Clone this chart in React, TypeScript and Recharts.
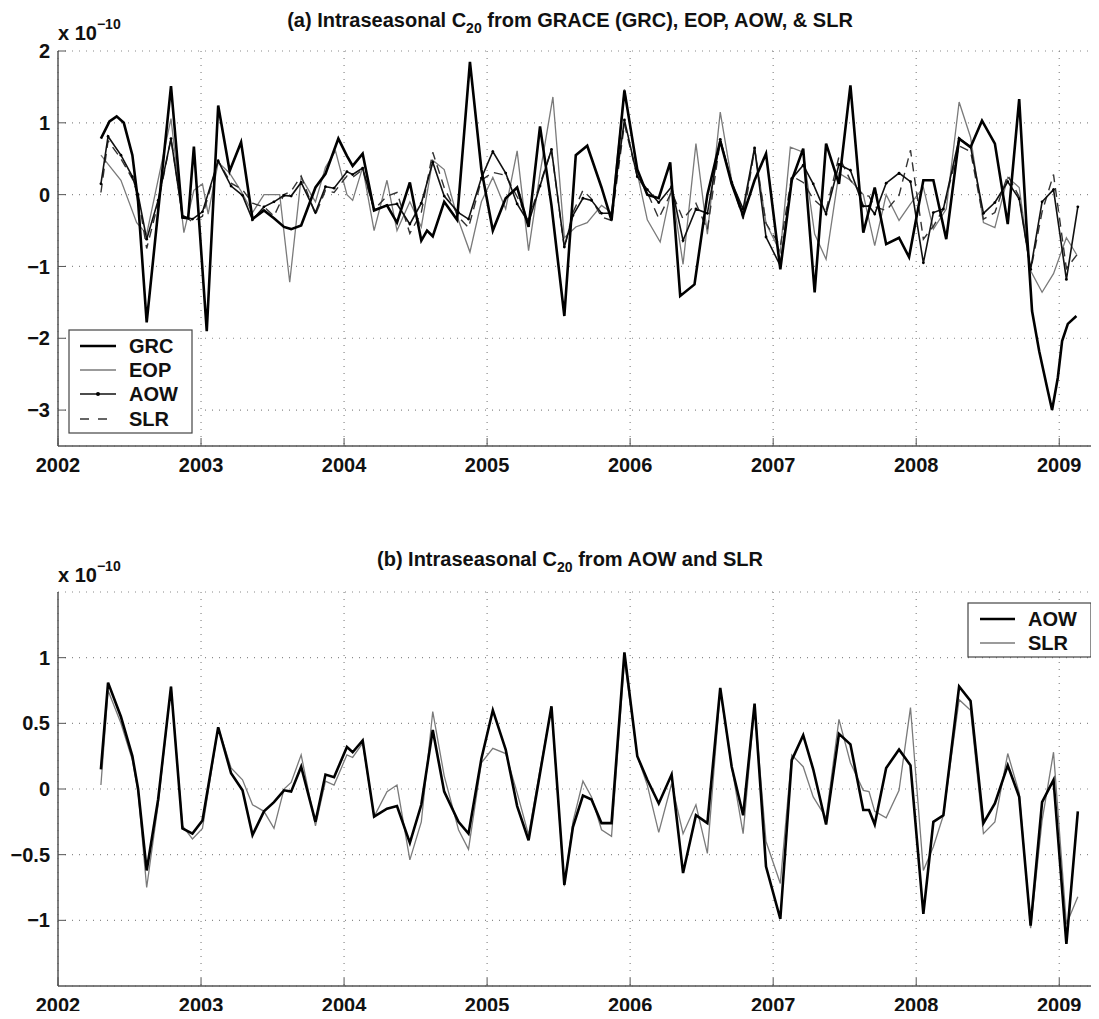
import React from "react";
import { LineChart, Line, XAxis, YAxis, CartesianGrid } from "recharts";

const FONT = "'Liberation Sans', Arial, Helvetica, sans-serif";

const yearTicks = [2002, 2003, 2004, 2005, 2006, 2007, 2008, 2009];
const topTicks = [-3, -2, -1, 0, 1, 2];
const bottomTicks = [-1, -0.5, 0, 0.5, 1];

// GRACE (GRC)
const grcT = [
  2002.3, 2002.36, 2002.41, 2002.46, 2002.52, 2002.56, 2002.62, 2002.79, 2002.87, 2002.91, 2002.95,
  2003.04, 2003.12, 2003.2, 2003.28, 2003.36, 2003.44, 2003.51, 2003.58, 2003.63, 2003.7, 2003.8, 2003.87, 2003.96,
  2004.02, 2004.06, 2004.13, 2004.21, 2004.3, 2004.37, 2004.46, 2004.54, 2004.58, 2004.62, 2004.7, 2004.79, 2004.88, 2004.96,
  2005.04, 2005.13, 2005.21, 2005.29, 2005.37, 2005.45, 2005.54, 2005.62, 2005.7, 2005.8, 2005.87, 2005.96,
  2006.05, 2006.12, 2006.2, 2006.28, 2006.35, 2006.45, 2006.54, 2006.63, 2006.71, 2006.79, 2006.87, 2006.95,
  2007.05, 2007.13, 2007.21, 2007.29, 2007.37, 2007.46, 2007.54, 2007.63, 2007.71, 2007.79, 2007.88, 2007.95,
  2008.05, 2008.12, 2008.21, 2008.3, 2008.38, 2008.46, 2008.55, 2008.64, 2008.72, 2008.77, 2008.81, 2008.86, 2008.92, 2008.95, 2008.99,
  2009.02, 2009.06, 2009.12,
];
const grcV = [
  0.78, 1.02, 1.09, 1.0, 0.55, -0.1, -1.78, 1.51, -0.32, -0.33, 0.67,
  -1.9, 1.24, 0.33, 0.73, -0.34, -0.22, -0.33, -0.45, -0.48, -0.43, 0.1, 0.29, 0.78,
  0.54, 0.4, 0.57, -0.22, -0.15, -0.39, 0.17, -0.64, -0.5, -0.58, -0.1, -0.35, 1.85, 0.35,
  -0.5, -0.05, 0.1, -0.45, 0.95, -0.15, -1.69, 0.55, 0.68, 0.1, -0.36, 1.45,
  0.35, 0.0, -0.05, 0.45, -1.41, -1.25, 0.0, 0.75, 0.15, -0.29, 0.2, 0.57,
  -1.04, 0.2, 0.64, -1.36, 0.71, 0.15, 1.52, -0.53, 0.1, -0.69, -0.6, -0.87,
  0.2, 0.2, -0.62, 0.78, 0.66, 1.03, 0.71, -0.41, 1.33, -0.4, -1.62, -2.18, -2.73, -3.0, -2.55,
  -2.04, -1.8, -1.69,
];

// Earth orientation (EOP)
const eopT = [
  2002.3, 2002.44, 2002.55, 2002.62, 2002.79, 2002.88, 2002.95,
  2003.01, 2003.05, 2003.12, 2003.2, 2003.28, 2003.36, 2003.44, 2003.55, 2003.62, 2003.7, 2003.8, 2003.87, 2003.94,
  2004.02, 2004.06, 2004.13, 2004.21, 2004.3, 2004.37, 2004.46, 2004.54, 2004.62, 2004.7, 2004.79, 2004.88, 2004.96,
  2005.04, 2005.13, 2005.21, 2005.29, 2005.37, 2005.46, 2005.54, 2005.62, 2005.7, 2005.8, 2005.87, 2005.96,
  2006.05, 2006.12, 2006.21, 2006.29, 2006.37, 2006.46, 2006.54, 2006.63, 2006.71, 2006.79, 2006.87, 2006.95,
  2007.05, 2007.12, 2007.21, 2007.29, 2007.37, 2007.46, 2007.54, 2007.63, 2007.71, 2007.79, 2007.88, 2007.96,
  2008.05, 2008.12, 2008.21, 2008.3, 2008.38, 2008.47, 2008.55, 2008.64, 2008.72, 2008.8, 2008.88, 2008.96,
  2009.05, 2009.12,
];
const eopV = [
  0.55, 0.2, -0.39, -0.55, 1.06, -0.53, 0.06,
  0.15, -0.27, 0.45, 0.3, 0.05, -0.25, 0.0, 0.0, -1.22, 0.24, -0.1, 0.38, 0.61,
  0.0, -0.08, 0.38, -0.5, 0.2, -0.5, -0.1, -0.45, 0.48, 0.35, -0.3, -0.8, -0.1,
  0.24, -0.2, 0.61, -0.78, 0.3, 1.36, -0.6, -0.45, -0.39, -0.15, -0.25, 1.47,
  0.3, -0.35, -0.66, 0.1, -0.97, 0.71, -0.55, 1.15, 0.2, -0.29, 0.66, -0.4,
  -0.8, 0.66, 0.59, -0.55, -0.9, 0.3, 0.2, 0.0, -0.71, 0.0, -0.36, -0.13,
  0.1, -0.48, -0.2, 1.29, 0.8, -0.39, -0.46, 0.24, 0.1, -1.06, -1.36, -1.1,
  -0.6, -0.83,
];

// AOW and SLR share one time grid
const aowT = [
  2002.3, 2002.35, 2002.44, 2002.52, 2002.56, 2002.62, 2002.7, 2002.79, 2002.87, 2002.94,
  2003.01, 2003.12, 2003.21, 2003.29, 2003.36, 2003.44, 2003.51, 2003.58, 2003.63, 2003.7, 2003.8, 2003.87, 2003.93,
  2004.02, 2004.06, 2004.13, 2004.21, 2004.3, 2004.37, 2004.46, 2004.54, 2004.62, 2004.7, 2004.8, 2004.87, 2004.96,
  2005.04, 2005.13, 2005.21, 2005.29, 2005.37, 2005.45, 2005.54, 2005.6, 2005.67, 2005.73, 2005.8, 2005.87, 2005.96,
  2006.05, 2006.12, 2006.2, 2006.29, 2006.37, 2006.46, 2006.54, 2006.63, 2006.71, 2006.79, 2006.87, 2006.95,
  2007.05, 2007.13, 2007.21, 2007.28, 2007.37, 2007.46, 2007.54, 2007.63, 2007.67, 2007.71, 2007.79, 2007.88, 2007.96,
  2008.05, 2008.12, 2008.19, 2008.3, 2008.38, 2008.47, 2008.55, 2008.64, 2008.72, 2008.8, 2008.88, 2008.96,
  2009.05, 2009.13,
];
const aowV = [
  0.15, 0.81, 0.55, 0.25, 0.0, -0.62, -0.08, 0.78, -0.3, -0.34,
  -0.24, 0.47, 0.12, -0.01, -0.35, -0.17, -0.1, -0.01, -0.02, 0.17, -0.25, 0.11, 0.09,
  0.32, 0.28, 0.37, -0.21, -0.15, -0.13, -0.41, -0.12, 0.45, -0.02, -0.25, -0.34, 0.23,
  0.6, 0.3, -0.13, -0.39, 0.12, 0.63, -0.73, -0.29, -0.05, -0.08, -0.26, -0.26, 1.04,
  0.25, 0.07, -0.11, 0.11, -0.64, -0.2, -0.26, 0.77, 0.17, -0.2, 0.65, -0.59,
  -0.99, 0.22, 0.41, 0.15, -0.27, 0.42, 0.34, -0.16, -0.16, -0.27, 0.16, 0.3, 0.18,
  -0.95, -0.25, -0.2, 0.78, 0.67, -0.26, -0.11, 0.18, -0.06, -1.04, -0.1, 0.07,
  -1.18, -0.17,
];
const slrV = [
  0.03, 0.75, 0.5, 0.22, -0.02, -0.75, -0.12, 0.78, -0.28, -0.38,
  -0.3, 0.47, 0.16, 0.07, -0.12, -0.17, -0.3, 0.0, 0.05, 0.26, -0.28, 0.06, 0.03,
  0.26, 0.24, 0.35, -0.21, -0.02, 0.03, -0.54, -0.25, 0.59, 0.1, -0.31, -0.46, 0.2,
  0.31, 0.27, -0.03, -0.35, 0.15, 0.62, -0.74, -0.25, 0.06, -0.06, -0.31, -0.36, 0.98,
  0.25, 0.03, -0.33, 0.04, -0.34, -0.12, -0.49, 0.75, 0.17, -0.34, 0.63, -0.4,
  -0.72, 0.26, 0.17, -0.06, -0.22, 0.53, 0.2, -0.01, -0.02, -0.17, -0.22, -0.01, 0.62,
  -0.62, -0.44, -0.2, 0.68, 0.6, -0.34, -0.25, 0.27, -0.03, -1.06, -0.24, 0.28,
  -1.03, -0.82,
];

const pts = (ts: number[], vs: number[]) => ts.map((t, i) => ({ t, v: vs[i] }));

const fmt = (v: number) => (v < 0 ? "\u2212" + Math.abs(v) : String(v));
const blank = () => "";

const tickStyle = { fill: "#111", fontSize: 20, fontWeight: "bold" as const, fontFamily: FONT };
const axisStroke = { stroke: "#555", strokeWidth: 1.5 };

type Series = {
  key: string;
  data: { t: number; v: number }[];
  stroke: string;
  width: number;
  dash?: string;
  dot?: boolean;
};

function Panel(props: {
  height: number;
  top: number;
  bottom: number;
  domain: [number, number];
  ticks: number[];
  series: Series[];
}) {
  const { height, top, bottom, domain, ticks, series } = props;
  return (
    <LineChart width={1099} height={height} margin={{ top, left: 8, right: 4, bottom }}>
      <CartesianGrid stroke="#8a8a8a" strokeDasharray="1 6" strokeWidth={1.2} />
      <XAxis
        dataKey="t"
        type="number"
        domain={[2002, 2009.25]}
        ticks={yearTicks}
        allowDataOverflow
        interval={0}
        height={30}
        tickSize={-8}
        tickMargin={20}
        axisLine={axisStroke}
        tickLine={{ stroke: "#555" }}
        tick={tickStyle}
      />
      <XAxis
        xAxisId="top"
        orientation="top"
        dataKey="t"
        type="number"
        domain={[2002, 2009.25]}
        ticks={yearTicks}
        allowDataOverflow
        interval={0}
        height={0}
        tickSize={-8}
        tickFormatter={blank}
        axisLine={axisStroke}
        tickLine={{ stroke: "#555" }}
      />
      <YAxis
        type="number"
        domain={domain}
        ticks={ticks}
        allowDataOverflow
        interval={0}
        width={50}
        tickSize={-8}
        tickMargin={16}
        tickFormatter={fmt}
        axisLine={axisStroke}
        tickLine={{ stroke: "#555" }}
        tick={tickStyle}
      />
      <YAxis
        yAxisId="r"
        orientation="right"
        type="number"
        domain={domain}
        ticks={ticks}
        allowDataOverflow
        interval={0}
        width={0}
        tickSize={-8}
        tickFormatter={blank}
        axisLine={axisStroke}
        tickLine={{ stroke: "#555" }}
      />
      {series.map((s) => (
        <Line
          key={s.key}
          data={s.data}
          dataKey="v"
          type="linear"
          stroke={s.stroke}
          strokeWidth={s.width}
          strokeDasharray={s.dash}
          dot={s.dot ? { r: 1.4, fill: "#000", stroke: "none" } : false}
          activeDot={false}
          isAnimationActive={false}
        />
      ))}
    </LineChart>
  );
}

export default function App() {
  const topSeries: Series[] = [
    { key: "eop", data: pts(eopT, eopV), stroke: "#7a7a7a", width: 1.3 },
    { key: "slr", data: pts(aowT, slrV), stroke: "#333", width: 1.4, dash: "9 6" },
    { key: "aow", data: pts(aowT, aowV), stroke: "#111", width: 1.6, dot: true },
    { key: "grc", data: pts(grcT, grcV), stroke: "#000", width: 2.6 },
  ];
  const bottomSeries: Series[] = [
    { key: "slr", data: pts(aowT, slrV), stroke: "#7a7a7a", width: 1.3 },
    { key: "aow", data: pts(aowT, aowV), stroke: "#000", width: 2.6 },
  ];

  const txt = { fontFamily: FONT, fontWeight: "bold" as const, fill: "#111" };

  return (
    <div style={{ position: "relative", width: 1099, height: 1019, margin: -8, background: "#fff" }}>
      <div style={{ position: "absolute", left: 0, top: 0 }}>
        <Panel height={500} top={51} bottom={24} domain={[-3.5, 2]} ticks={topTicks} series={topSeries} />
      </div>
      <div style={{ position: "absolute", left: 0, top: 540 }}>
        <Panel height={479} top={52} bottom={3} domain={[-1.5, 1.5]} ticks={bottomTicks} series={bottomSeries} />
      </div>
      <svg
        width={1099}
        height={1019}
        style={{ position: "absolute", left: 0, top: 0, pointerEvents: "none" }}
      >
        <text x={570} y={27} textAnchor="middle" fontSize={20} {...txt}>
          (a) Intraseasonal C<tspan dy={6} fontSize={14}>20</tspan>
          <tspan dy={-6}> from GRACE (GRC), EOP, AOW, &amp; SLR</tspan>
        </text>
        <text x={58} y={40} fontSize={20} {...txt}>
          x 10<tspan dy={-11} fontSize={14}>{"\u221210"}</tspan>
        </text>

        <text x={570} y={566} textAnchor="middle" fontSize={20} {...txt}>
          (b) Intraseasonal C<tspan dy={6} fontSize={14}>20</tspan>
          <tspan dy={-6}> from AOW and SLR</tspan>
        </text>
        <text x={58} y={582} fontSize={20} {...txt}>
          x 10<tspan dy={-11} fontSize={14}>{"\u221210"}</tspan>
        </text>

        {/* legend (a) */}
        <rect x={69} y={330} width={123} height={103} fill="#fff" stroke="#444" strokeWidth={1.2} />
        <line x1={80} x2={116} y1={346} y2={346} stroke="#000" strokeWidth={2.6} />
        <text x={129} y={353} fontSize={20} {...txt}>GRC</text>
        <line x1={80} x2={116} y1={370} y2={370} stroke="#7a7a7a" strokeWidth={1.3} />
        <text x={129} y={377} fontSize={20} {...txt}>EOP</text>
        <line x1={80} x2={116} y1={394} y2={394} stroke="#111" strokeWidth={1.6} />
        <circle cx={98} cy={394} r={2} fill="#000" />
        <text x={129} y={401} fontSize={20} {...txt}>AOW</text>
        <line x1={80} x2={116} y1={419} y2={419} stroke="#333" strokeWidth={1.4} strokeDasharray="9 9" />
        <text x={129} y={426} fontSize={20} {...txt}>SLR</text>

        {/* legend (b) */}
        <rect x={968} y={603} width={123} height={54} fill="#fff" stroke="#444" strokeWidth={1.2} />
        <line x1={980} x2={1015} y1={619} y2={619} stroke="#000" strokeWidth={2.6} />
        <text x={1028} y={626} fontSize={20} {...txt}>AOW</text>
        <line x1={980} x2={1015} y1={643} y2={643} stroke="#7a7a7a" strokeWidth={1.3} />
        <text x={1028} y={650} fontSize={20} {...txt}>SLR</text>
      </svg>
    </div>
  );
}
